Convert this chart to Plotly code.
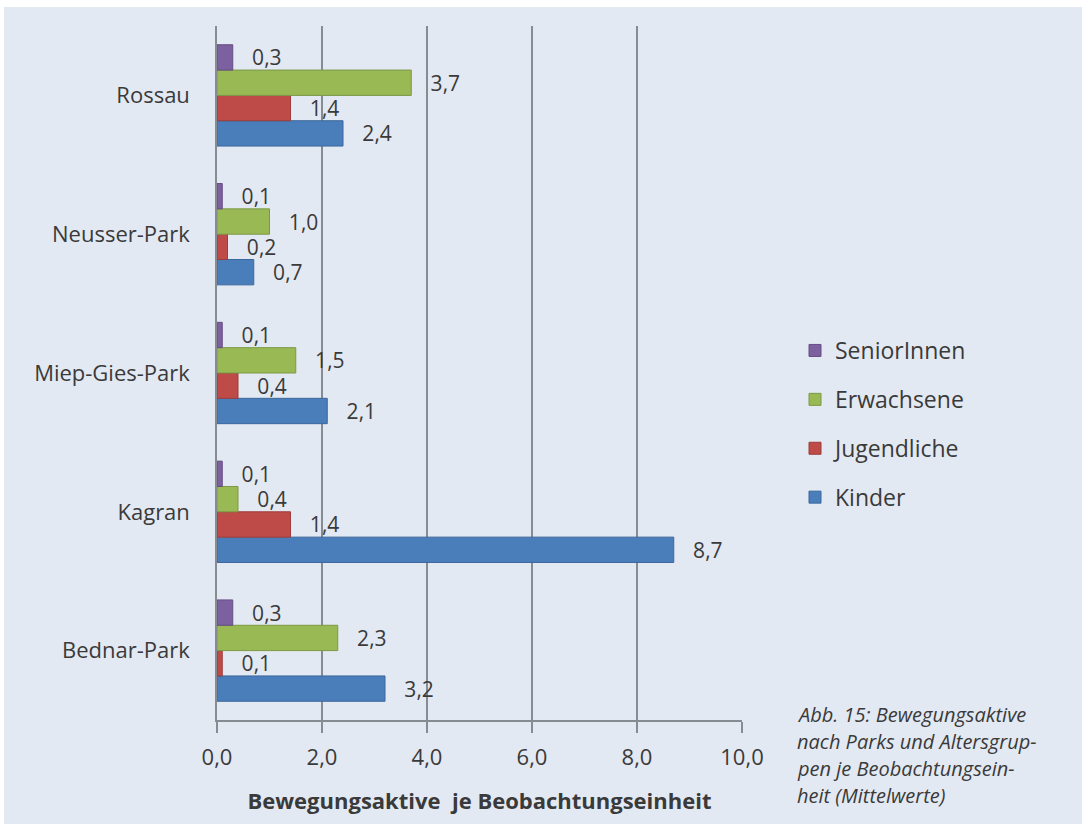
import plotly.graph_objects as go

# Parks, listed bottom-to-top as they appear on the category axis
parks = ["Bednar-Park", "Kagran", "Miep-Gies-Park", "Neusser-Park", "Rossau"]

# Mean number of physically active people per observation unit
kinder = [3.2, 8.7, 2.1, 0.7, 2.4]
jugendliche = [0.1, 1.4, 0.4, 0.2, 1.4]
erwachsene = [2.3, 0.4, 1.5, 1.0, 3.7]
seniorinnen = [0.3, 0.1, 0.1, 0.1, 0.3]

series_names = ["Kinder", "Jugendliche", "Erwachsene", "SeniorInnen"]
series_values = [kinder, jugendliche, erwachsene, seniorinnen]
series_colors = ["#4a7ebb", "#be4b48", "#98b954", "#7d60a0"]
series_edges = ["#3c679c", "#9c3d3b", "#7d9845", "#664e84"]
legend_ranks = [4, 3, 2, 1]

x_ticks = [0, 2, 4, 6, 8, 10]

caption_lines = [
    "Abb. 15: Bewegungsaktive",
    "nach Parks und Altersgrup-",
    "pen je Beobachtungsein-",
    "heit (Mittelwerte)",
]

FONT = "Open Sans"
TEXT = "#3a3a3a"
GRID = "#878c93"
BG = "#e3e9f2"

W, H = 1082, 824
ML, MR, MT, MB = 217, 340, 26, 104
PW, PH = W - ML - MR, H - MT - MB


def px_x(p):
    return (p - ML) / PW


def px_y(p):
    return (H - MB - p) / PH


fig = go.Figure()
for name, vals, col, edge, rank in zip(series_names, series_values, series_colors,
                                       series_edges, legend_ranks):
    fig.add_trace(go.Bar(
        name=name,
        y=parks,
        x=vals,
        orientation="h",
        legendgroup=name,
        legendrank=rank,
        marker=dict(color=col, line=dict(color=edge, width=1)),
        text=["\u00a0\u00a0\u00a0" + f"{v:.1f}".replace(".", ",") for v in vals],
        textposition="outside",
        constraintext="none",
        cliponaxis=False,
        textfont=dict(family=FONT, size=21, color=TEXT),
        hoverinfo="x+name",
    ))

fig.update_layout(
    width=W,
    height=H,
    margin=dict(l=ML, r=MR, t=MT, b=MB),
    paper_bgcolor=BG,
    plot_bgcolor=BG,
    barmode="group",
    bargap=0.27,
    bargroupgap=0,
    separators=",.",
    font=dict(family=FONT, size=22, color=TEXT),
    legend=dict(
        x=px_x(795),
        y=px_y(329),
        xanchor="left",
        yanchor="top",
        traceorder="grouped",
        tracegroupgap=16,
        bgcolor="rgba(0,0,0,0)",
        font=dict(family=FONT, size=23, color=TEXT),
    ),
    xaxis=dict(
        range=[0, 10],
        tickvals=x_ticks,
        tickformat=".1f",
        showgrid=True,
        gridcolor=GRID,
        gridwidth=1.5,
        zeroline=False,
        showline=True,
        linecolor=GRID,
        linewidth=1.5,
        ticks="outside",
        ticklen=11,
        tickwidth=1.5,
        tickcolor=GRID,
        ticklabelstandoff=6,
        tickfont=dict(family=FONT, size=22, color=TEXT),
        title=dict(
            text="<b>Bewegungsaktive  je Beobachtungseinheit</b>",
            font=dict(family=FONT, size=22, color=TEXT),
            standoff=23,
        ),
    ),
    yaxis=dict(
        categoryorder="array",
        categoryarray=parks,
        showgrid=False,
        zeroline=False,
        showline=True,
        linecolor=GRID,
        linewidth=1.5,
        ticks="",
        ticklabelstandoff=21,
        tickfont=dict(family=FONT, size=22, color=TEXT),
    ),
    shapes=[
        # thin white frame along the top and left edges of the panel
        dict(type="rect", xref="paper", yref="paper", layer="below",
             x0=px_x(0), x1=px_x(W), y0=px_y(7), y1=px_y(0),
             fillcolor="white", line=dict(width=0)),
        dict(type="rect", xref="paper", yref="paper", layer="below",
             x0=px_x(0), x1=px_x(4), y0=px_y(H), y1=px_y(0),
             fillcolor="white", line=dict(width=0)),
        # y axis line continues down through the tick length
        dict(type="line", xref="paper", yref="paper", layer="above",
             x0=0, x1=0, y0=0, y1=px_y(732),
             line=dict(color=GRID, width=1.5)),
    ],
)

for i, line in enumerate(caption_lines):
    fig.add_annotation(
        x=px_x(795), y=px_y(714 + 27 * i),
        xref="paper", yref="paper",
        xanchor="left", yanchor="middle",
        text=f"<i>{line}</i>",
        showarrow=False,
        font=dict(family=FONT, size=20, color=TEXT),
    )

fig.write_html("out.html")
